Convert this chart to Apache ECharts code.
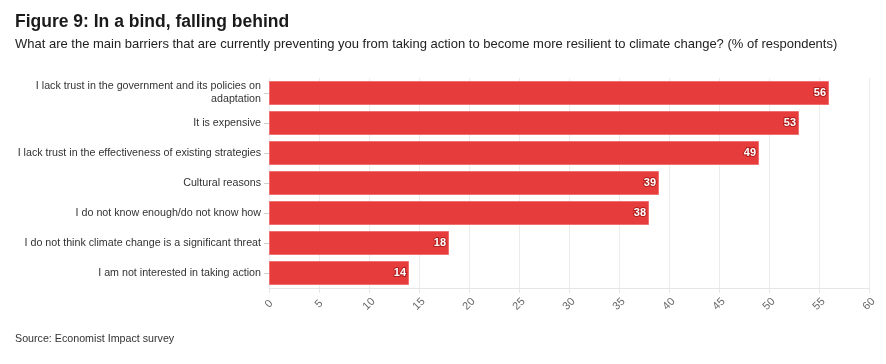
<!DOCTYPE html>
<html><head><meta charset="utf-8">
<script src="https://cdn.jsdelivr.net/npm/echarts@6/dist/echarts.min.js"></script>
<style>html,body{margin:0;padding:0;background:#fff}#c{width:886px;height:364px}</style>
</head><body><div id="c"></div>
<script>
const categories = [
  "I lack trust in the government and its policies on\nadaptation",
  "It is expensive",
  "I lack trust in the effectiveness of existing strategies",
  "Cultural reasons",
  "I do not know enough/do not know how",
  "I do not think climate change is a significant threat",
  "I am not interested in taking action"
];
const values = [56, 53, 49, 39, 38, 18, 14];
const xTicks = [0, 5, 10, 15, 20, 25, 30, 35, 40, 45, 50, 55, 60];

const chart = echarts.init(document.getElementById('c'), null, {renderer: 'canvas'});
const font = 'Liberation Sans';
chart.setOption({
  animation: false,
  textStyle: {fontFamily: font},
  title: [
    {text: 'Figure 9: In a bind, falling behind', left: 10, top: 8,
     textStyle: {fontSize: 17.5, fontWeight: 'bold', color: '#1a1a1a', fontFamily: font}},
    {text: 'What are the main barriers that are currently preventing you from taking action to become more resilient to climate change? (% of respondents)',
     left: 10, top: 33, textStyle: {fontSize: 13, fontWeight: 'normal', color: '#222', fontFamily: font}},
    {text: 'Source: Economist Impact survey', left: 10, top: 329,
     textStyle: {fontSize: 10.7, fontWeight: 'normal', color: '#333', fontFamily: font}}
  ],
  grid: {left: 269, right: 17, top: 78, bottom: 76, containLabel: false},
  xAxis: {
    type: 'value', min: 0, max: 60, interval: 5,
    axisLine: {show: true, lineStyle: {color: '#e6e6e6'}},
    axisTick: {show: true, length: 5, lineStyle: {color: '#e6e6e6'}},
    splitLine: {show: true, lineStyle: {color: '#ececec'}},
    axisLabel: {rotate: 45, color: '#666', fontSize: 11, margin: 16,
      align: 'center', verticalAlign: 'middle',
      formatter: v => xTicks.includes(v) ? String(v) : ''}
  },
  yAxis: {
    type: 'category', data: categories, inverse: true,
    axisLine: {show: false},
    axisTick: {show: true, length: 5, alignWithLabel: true, lineStyle: {color: '#cfcfcf'}},
    axisLabel: {color: '#333', fontSize: 10.7, margin: 8, lineHeight: 13, align: 'right'}
  },
  series: [{
    type: 'bar', data: values, barCategoryGap: '20%',
    itemStyle: {color: '#e63c3c', borderColor: '#f07070', borderWidth: 1},
    label: {show: true, position: 'insideRight', distance: 3, color: '#fff',
      fontWeight: 'bold', fontSize: 11, textBorderColor: '#b01f1f', textBorderWidth: 2}
  }]
});
</script></body></html>
